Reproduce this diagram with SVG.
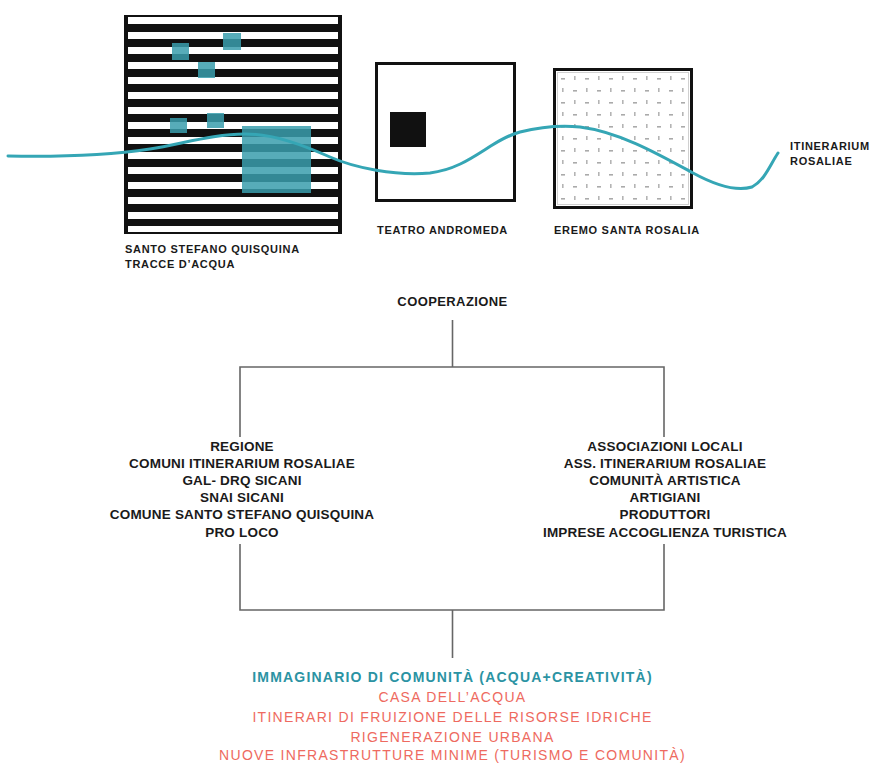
<svg xmlns="http://www.w3.org/2000/svg" width="872" height="764" viewBox="0 0 872 764">
<style>
  .lbl { font-family: "Liberation Sans", Arial, sans-serif; font-weight: bold; fill: #1a1a1a; }
  .top { font-size: 11px; letter-spacing: 0.7px; }
  .blk { font-size: 13.5px; letter-spacing: 0.2px; text-anchor: middle; }
  .teal { font-family: "Liberation Sans", Arial, sans-serif; font-weight: bold; font-size: 14px; letter-spacing: 1.2px; fill: #2b93a3; text-anchor: middle; }
  .red { font-family: "Liberation Sans", Arial, sans-serif; font-size: 14px; letter-spacing: 1.3px; fill: #ee6a60; text-anchor: middle; }
  .wstripe { fill: #ffffff; }
  .tsq { fill: #3a9ead; opacity: 0.85; }
  .frame { fill: none; stroke: #111; stroke-width: 3; }
  .conn { fill: none; stroke: #666; stroke-width: 1.6; }
  .wave { fill: none; stroke: #35a6b5; stroke-width: 3; stroke-linecap: round; }
</style>
<defs>
  <pattern id="dots" x="557" y="73" width="24" height="24" patternUnits="userSpaceOnUse">
    <rect x="4" y="5" width="4" height="1.6" fill="#aaaaaa"/>
    <rect x="17" y="3" width="1.6" height="4" fill="#b4b4b4"/>
    <rect x="16" y="17" width="4" height="1.6" fill="#aaaaaa"/>
    <rect x="5" y="15" width="1.6" height="4" fill="#b4b4b4"/>
  </pattern>
</defs>
<rect width="872" height="764" fill="#ffffff"/>

<g id="santo-stefano">
  <rect x="124" y="15" width="218" height="219" fill="#111"/>
  <rect class="wstripe" x="128" y="17" width="210" height="7"/>
  <rect class="wstripe" x="128" y="32" width="210" height="7"/>
  <rect class="wstripe" x="128" y="47" width="210" height="7"/>
  <rect class="wstripe" x="128" y="62" width="210" height="7"/>
  <rect class="wstripe" x="128" y="77" width="210" height="7"/>
  <rect class="wstripe" x="128" y="92" width="210" height="7"/>
  <rect class="wstripe" x="128" y="107" width="210" height="7"/>
  <rect class="wstripe" x="128" y="122" width="210" height="7"/>
  <rect class="wstripe" x="128" y="137" width="210" height="7"/>
  <rect class="wstripe" x="128" y="152" width="210" height="7"/>
  <rect class="wstripe" x="128" y="167" width="210" height="7"/>
  <rect class="wstripe" x="128" y="182" width="210" height="7"/>
  <rect class="wstripe" x="128" y="197" width="210" height="7"/>
  <rect class="wstripe" x="128" y="212" width="210" height="7"/>
  <rect class="wstripe" x="128" y="226" width="210" height="6"/>
  <rect class="tsq" x="172" y="43" width="17" height="17"/>
  <rect class="tsq" x="223" y="33" width="18" height="17"/>
  <rect class="tsq" x="198" y="62" width="17" height="16"/>
  <rect class="tsq" x="170" y="118" width="17" height="15"/>
  <rect class="tsq" x="207" y="113" width="17" height="15"/>
  <rect class="tsq" x="242" y="126" width="69" height="67"/>
  <text class="lbl top" x="125" y="253">SANTO STEFANO QUISQUINA</text>
  <text class="lbl top" x="125" y="268">TRACCE D’ACQUA</text>
</g>

<g id="teatro-andromeda">
  <rect class="frame" x="376.5" y="63.5" width="138" height="137"/>
  <rect x="390" y="112" width="36" height="35" fill="#111"/>
  <text class="lbl top" x="377" y="234">TEATRO ANDROMEDA</text>
</g>

<g id="eremo-santa-rosalia">
  <rect x="557" y="72" width="132" height="133" fill="url(#dots)"/>
  <rect x="557.5" y="72.5" width="131" height="132" fill="none" stroke="#d0d0d0" stroke-width="1"/>
  <rect class="frame" x="554.5" y="69.5" width="137" height="138"/>
  <text class="lbl top" x="554" y="234">EREMO SANTA ROSALIA</text>
</g>

<g id="itinerarium">
  <path class="wave" d="M8,156 C60,157 110,155 150,149 C185,143 215,134 245,134 C275,134 305,146 330,157 C355,168 395,176 430,173 C470,168 490,140 520,132 C540,127 560,125 580,127 C620,132 660,155 693,173 C715,185 735,192 752,187 C765,180 770,165 778,153"/>
  <text class="lbl top" x="790" y="150">ITINERARIUM</text>
  <text class="lbl top" x="790" y="165">ROSALIAE</text>
</g>

<g id="connectors">
  <line class="conn" x1="452.5" y1="320" x2="452.5" y2="367"/>
  <path class="conn" d="M240,437 V367 H664 V437"/>
  <path class="conn" d="M240,544 V610 H664 V544"/>
  <line class="conn" x1="452.5" y1="610" x2="452.5" y2="658"/>
</g>

<g id="cooperazione">
  <text class="lbl" x="452.5" y="306" font-size="13" letter-spacing="0.4" text-anchor="middle">COOPERAZIONE</text>
</g>

<g id="enti-pubblici">
  <text class="lbl blk" x="242" y="451">REGIONE</text>
  <text class="lbl blk" x="242" y="468">COMUNI ITINERARIUM ROSALIAE</text>
  <text class="lbl blk" x="242" y="485">GAL- DRQ SICANI</text>
  <text class="lbl blk" x="242" y="502">SNAI SICANI</text>
  <text class="lbl blk" x="242" y="519">COMUNE SANTO STEFANO QUISQUINA</text>
  <text class="lbl blk" x="242" y="537">PRO LOCO</text>
</g>

<g id="soggetti-privati">
  <text class="lbl blk" x="665" y="451">ASSOCIAZIONI LOCALI</text>
  <text class="lbl blk" x="665" y="468">ASS. ITINERARIUM ROSALIAE</text>
  <text class="lbl blk" x="665" y="485">COMUNITÀ ARTISTICA</text>
  <text class="lbl blk" x="665" y="502">ARTIGIANI</text>
  <text class="lbl blk" x="665" y="519">PRODUTTORI</text>
  <text class="lbl blk" x="665" y="537">IMPRESE ACCOGLIENZA TURISTICA</text>
</g>

<g id="risultati">
  <text class="teal" x="452.5" y="682">IMMAGINARIO DI COMUNITÀ (ACQUA+CREATIVITÀ)</text>
  <text class="red" x="452.5" y="702">CASA DELL’ACQUA</text>
  <text class="red" x="452.5" y="722">ITINERARI DI FRUIZIONE DELLE RISORSE IDRICHE</text>
  <text class="red" x="452.5" y="742">RIGENERAZIONE URBANA</text>
  <text class="red" x="452.5" y="760">NUOVE INFRASTRUTTURE MINIME (TURISMO E COMUNITÀ)</text>
</g>
</svg>
